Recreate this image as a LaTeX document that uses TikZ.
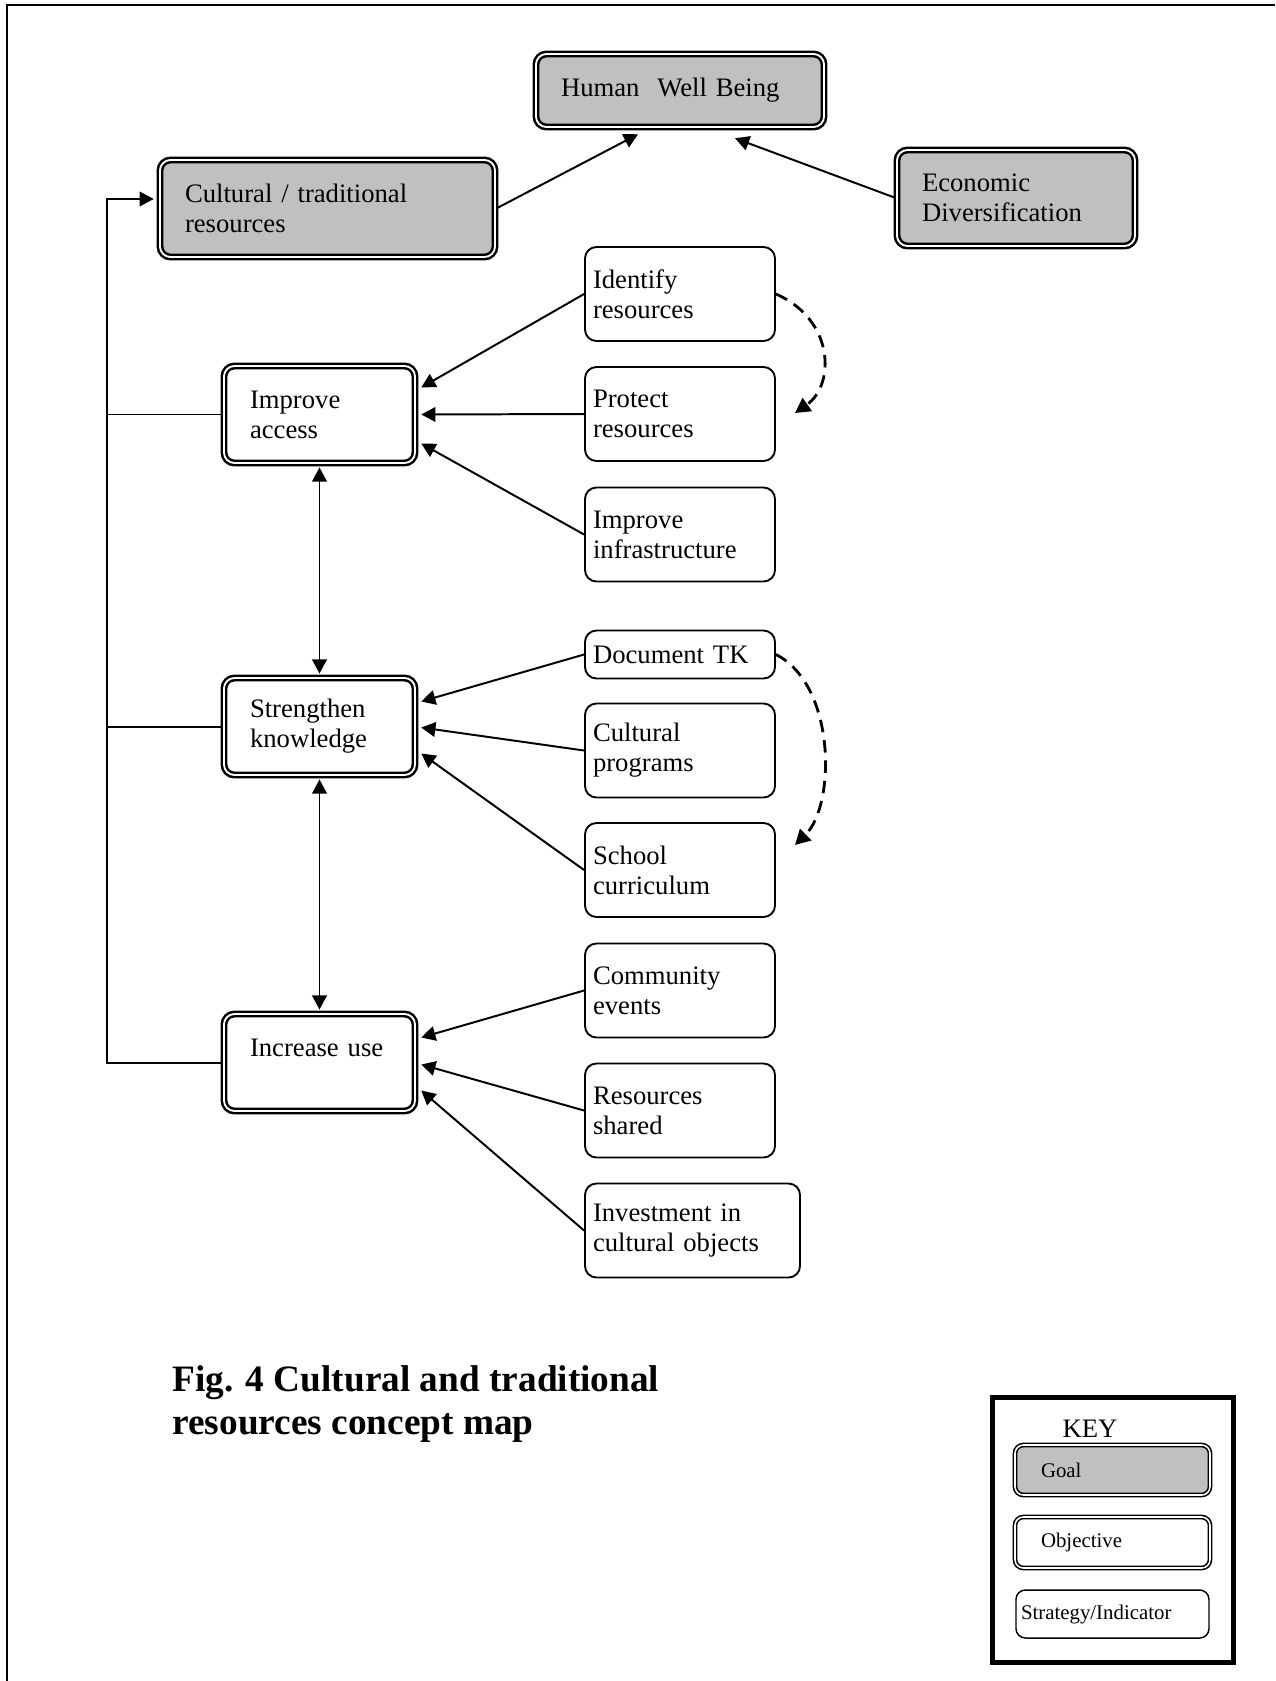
\documentclass[tikz,border=0pt]{standalone}
\usepackage{fontspec}
\setmainfont{Liberation Serif}
\usetikzlibrary{arrows.meta,calc}
\definecolor{goalgray}{HTML}{C0C0C0}

\begin{document}
\begin{tikzpicture}[x=0.48pt, y=-0.48pt]
\tikzset{
  txt/.style={font=\fontsize{12.8pt}{14.4pt}\selectfont},
  keytxt/.style={font=\fontsize{10pt}{12pt}\selectfont},
  framed/.style={draw=black, line width=1.2pt, double=white, double distance=0.9pt,
    rounded corners=5pt, align=left, inner ysep=0pt},
  goalbox/.style={framed, txt, fill=goalgray, inner xsep=12pt},
  objbox/.style={framed, txt, fill=white, inner xsep=12.48pt, text width=66.72pt,
    minimum height=46.56pt},
  stratbox/.style={draw=black, line width=0.9pt, rounded corners=5.5pt, txt, align=left,
    inner xsep=3.84pt, inner ysep=0pt, text width=83.52pt, minimum height=45.12pt},
  plain/.style={line width=0.95pt},
  link/.style={plain, -{Triangle[length=6.8pt,width=7pt]}},
  bilink/.style={plain, {Triangle[length=6.8pt,width=7pt]}-{Triangle[length=6.8pt,width=7pt]},
    shorten <=1.5pt, shorten >=1.5pt},
  dashlink/.style={line width=1.35pt, -{Triangle[length=7.2pt,width=7.6pt]},
    dash pattern=on 6pt off 3.8pt},
}
\useasboundingbox (0,0) rectangle (1275,1681);

% page frame (top and left rules)
\draw[line width=0.96pt] (7,1681) -- (7,5) -- (1275,5);

% goals
\node[goalbox, text width=114.24pt, minimum height=35.04pt] (hwb) at (680,90.5) {Human~~Well Being};
\node[goalbox, text width=136.8pt, minimum height=46.56pt] (ctr) at (327.5,208.5) {Cultural / traditional\\resources};
\node[goalbox, text width=90.24pt, minimum height=46.08pt] (eco) at (1016,198) {Economic\\Diversification};

% objectives
\node[objbox] (ia) at (319.5,414.5) {Improve\\access};
\node[objbox] (sk) at (319.5,726.5) {Strengthen\\knowledge};
\node[objbox] (iu) at (319.5,1062.5) {Increase use\\\mbox{}};

% strategies / indicators
\node[stratbox] (idr) at (680,294) {Identify\\resources};
\node[stratbox] (pr) at (680,414) {Protect\\resources};
\node[stratbox] (ii) at (680,534.5) {Improve\\infrastructure};
\node[stratbox, minimum height=23.04pt] (dtk) at (680,654.5) {Document TK};
\node[stratbox] (cp) at (680,750.5) {Cultural\\programs};
\node[stratbox] (sc) at (680,870) {School\\curriculum};
\node[stratbox] (ce) at (680,990.5) {Community\\events};
\node[stratbox] (rs) at (680,1110.5) {Resources\\shared};
\node[stratbox, text width=95.52pt] (inv) at (692.5,1230.5) {Investment in\\cultural objects};

% goals feed human well being
\draw[link] (ctr.east) -- ($(hwb.south)+(-42,6)$);
\draw[link] (eco.west) -- ($(hwb.south)+(55,10)$);

% strategies feed objectives
\draw[link] (idr.west) -- ($(ia.east)+(5,-27)$);
\draw[link] (pr.west) -- ($(ia.east)+(5,0)$);
\draw[link] (ii.west) -- ($(ia.east)+(5,29)$);
\draw[link] (dtk.west) -- ($(sk.east)+(5,-25)$);
\draw[link] (cp.west) -- ($(sk.east)+(5,1)$);
\draw[link] (sc.west) -- ($(sk.east)+(5,27)$);
\draw[link] (ce.west) -- ($(iu.east)+(5,-25)$);
\draw[link] (rs.west) -- ($(iu.east)+(5,2)$);
\draw[link] (inv.west) -- ($(iu.east)+(5,28)$);

% links between objectives
\draw[bilink] (ia.south) -- (sk.north);
\draw[bilink] (sk.south) -- (iu.north);

% feedback bus to the cultural goal
\coordinate (fb) at (107,199);
\draw[plain] (ia.west) -- (ia.west -| fb);
\draw[plain] (sk.west) -- (sk.west -| fb);
\draw[link] (iu.west) -- (iu.west -| fb) -- (fb) -- ($(ctr.west)+(-5,-9.5)$);

% sequence arrows
\coordinate (d1) at (795,413);
\draw[dashlink] (idr.east) .. controls (835,320) and (835,385) .. (d1);
\coordinate (d2) at (795,845);
\draw[dashlink] (dtk.east) .. controls (836,685) and (836,805) .. (d2);

% caption
\node[anchor=north west, inner sep=0pt, align=left,
  font=\fontsize{17.9pt}{20.6pt}\bfseries\selectfont] (cap) at (172,1365)
  {Fig. 4 Cultural and traditional\\resources concept map};

% key
\draw[line width=2.6pt] (992.5,1397.5) rectangle (1233.5,1662.5);
\node[txt, anchor=base, inner sep=0pt] (keyt) at (1090,1437) {KEY};
\node[framed, keytxt, fill=goalgray, line width=0.75pt, double distance=0.75pt,
  inner xsep=12.48pt, text width=68.64pt, minimum height=24pt, rounded corners=4pt]
  (kg) at (1112.5,1470) {Goal};
\node[framed, keytxt, fill=white, line width=0.75pt, double distance=0.75pt,
  inner xsep=12.48pt, text width=68.64pt, minimum height=24.48pt, rounded corners=4pt]
  (ko) at (1112.5,1542.5) {Objective};
\node[stratbox, keytxt, line width=0.7pt, inner xsep=2.4pt, text width=87.84pt,
  minimum height=23.04pt, rounded corners=4.5pt] (ks) at (1112.5,1614) {Strategy/Indicator};
\end{tikzpicture}
\end{document}
